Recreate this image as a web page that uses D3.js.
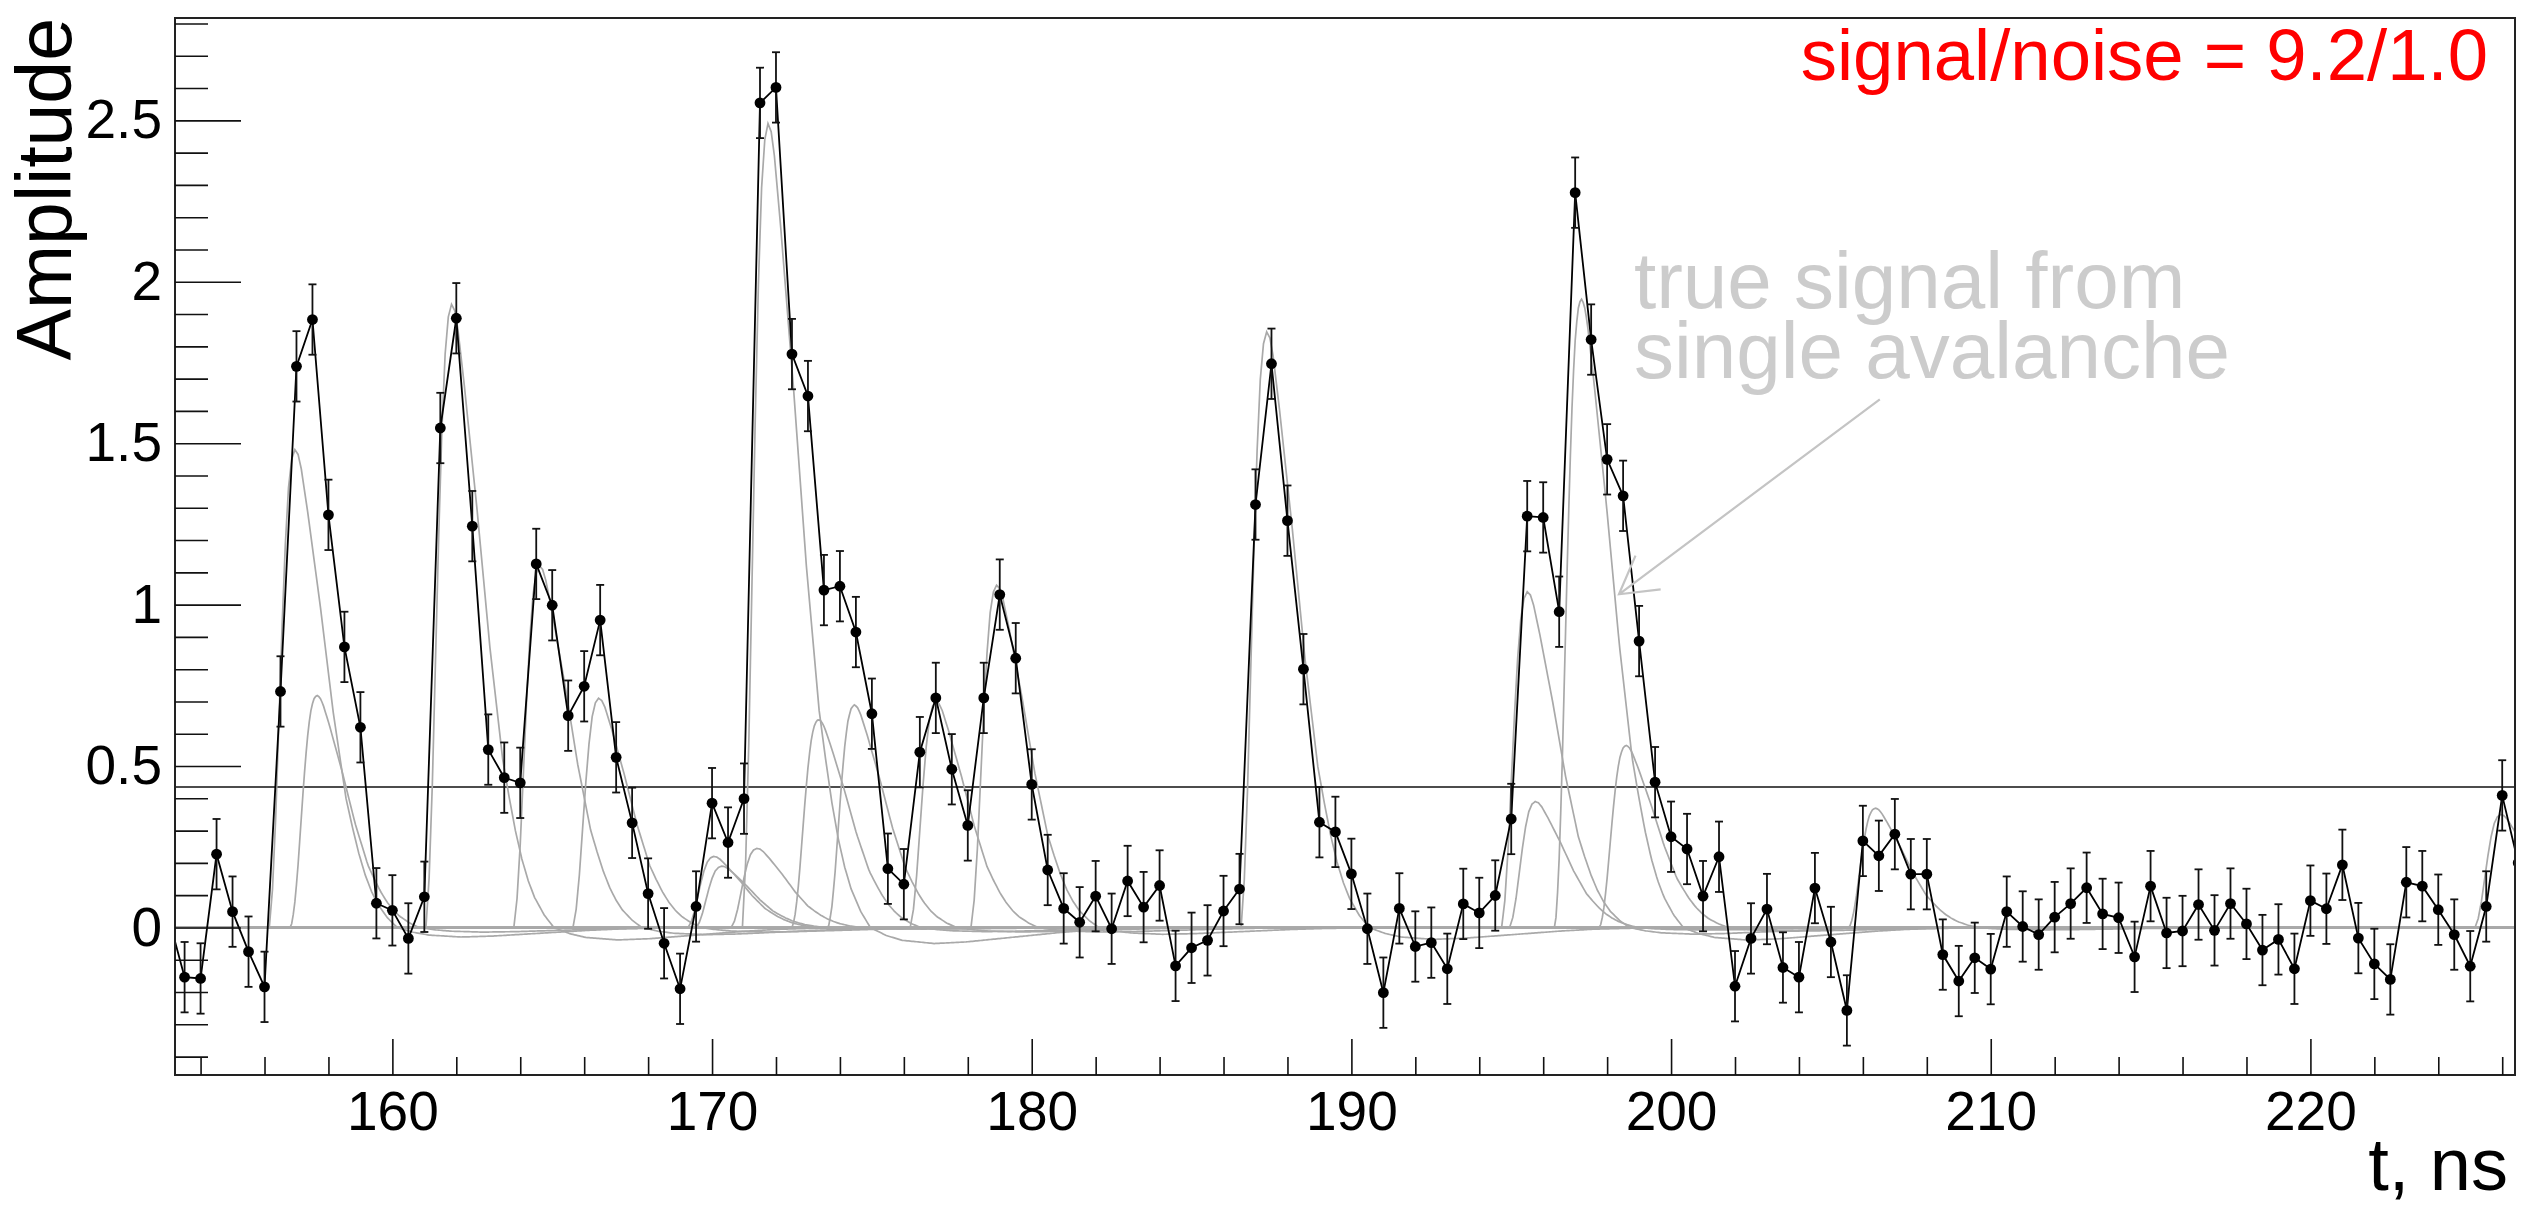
<!DOCTYPE html>
<html>
<head>
<meta charset="utf-8">
<script src="https://cdn.jsdelivr.net/npm/d3@7"></script>
<style>
  body { margin: 0; background: #fff; }
  text { font-family: "Liberation Sans", Arial, Helvetica, sans-serif; }
</style>
</head>
<body>
<svg id="chart" width="2537" height="1207"></svg>
<script>
// ---- digitised waveform: one sample every 0.5 ns starting at 153.0 ns ----
const sampleStart = 153.0;
const sampleStep = 0.5;
const amplitude = [
  0.030, -0.154, -0.158, 0.227, 0.049, -0.075, -0.184, 0.731, 1.738, 1.883,
  1.278, 0.869, 0.620, 0.075, 0.053, -0.034, 0.095, 1.547, 1.887, 1.243,
  0.551, 0.464, 0.448, 1.126, 0.998, 0.656, 0.747, 0.952, 0.527, 0.324,
  0.105, -0.049, -0.190, 0.065, 0.385, 0.263, 0.399, 2.554, 2.602, 1.776,
  1.646, 1.045, 1.057, 0.915, 0.662, 0.182, 0.134, 0.543, 0.711, 0.490,
  0.316, 0.711, 1.031, 0.834, 0.443, 0.178, 0.059, 0.016, 0.097, -0.004,
  0.144, 0.063, 0.130, -0.119, -0.063, -0.040, 0.051, 0.119, 1.310, 1.746,
  1.260, 0.800, 0.326, 0.296, 0.166, -0.004, -0.202, 0.059, -0.059, -0.047,
  -0.128, 0.073, 0.045, 0.099, 0.336, 1.274, 1.270, 0.978, 2.276, 1.821,
  1.450, 1.337, 0.887, 0.450, 0.281, 0.243, 0.097, 0.219, -0.182, -0.034,
  0.057, -0.124, -0.154, 0.122, -0.045, -0.257, 0.268, 0.222, 0.289, 0.165,
  0.165, -0.084, -0.166, -0.094, -0.129, 0.049, 0.003, -0.022, 0.032, 0.074,
  0.123, 0.042, 0.030, -0.091, 0.128, -0.017, -0.011, 0.071, -0.009, 0.074,
  0.011, -0.070, -0.037, -0.128, 0.083, 0.058, 0.194, -0.033, -0.113, -0.161,
  0.140, 0.128, 0.055, -0.022, -0.120, 0.065, 0.409, 0.200
];
const amplitudeError = 0.109;
const threshold = 0.435;

// ---- single-avalanche pulses (peak time in ns, peak amplitude) ----
const pulsePeakTime = [
  156.95, 157.63, 161.85, 164.60, 166.45, 170.05, 170.30, 171.40, 171.75, 173.32,
  174.44, 177.00, 178.90, 187.35, 195.50, 195.75, 197.18, 198.58, 206.38, 225.95
];
const pulseAmplitude = [
  1.48, 0.72, 1.93, 1.12, 0.71, 0.22, 0.19, 0.245, 2.49, 0.645,
  0.69, 0.70, 1.06, 1.845, 1.04, 0.39, 1.95, 0.565, 0.37, 0.35
];
// normalised pulse shape: time after onset (ns) and relative height
const shapeTime = [0, 0.1, 0.2, 0.3, 0.4, 0.5, 0.6, 0.7, 0.8, 0.9, 1.0, 1.2, 1.4, 1.6, 1.8,
  2.0, 2.2, 2.4, 2.6, 2.8, 3.0, 3.2, 3.4, 3.7, 4.0, 4.5, 5.0, 6.0, 7.0, 8.0, 9.0, 10.0, 11.0, 12.0, 14.0];
const shapeValue = [0, 0.08, 0.23, 0.43, 0.63, 0.80, 0.92, 0.98, 1.00, 0.99, 0.96, 0.87, 0.77, 0.67, 0.56,
  0.45, 0.36, 0.27, 0.21, 0.155, 0.11, 0.075, 0.048, 0.02, 0.0, -0.010, -0.016, -0.020, -0.018, -0.014, -0.010, -0.006, -0.003, -0.0015, 0];
const peakOffset = 0.8;

// ---- axes ----
const xDomain = [153.2, 226.4];
const yDomain = [-0.457, 2.817];
const xMajorTicks = [160, 170, 180, 190, 200, 210, 220];
const xMinorTicks = [154, 156, 158, 162, 164, 166, 168, 172, 174, 176, 178, 182, 184, 186, 188,
  192, 194, 196, 198, 202, 204, 206, 208, 212, 214, 216, 218, 222, 224, 226];
const yMajorTicks = [0, 0.5, 1, 1.5, 2, 2.5];
const yMinorTicks = [-0.4, -0.3, -0.2, -0.1, 0.1, 0.2, 0.3, 0.4, 0.6, 0.7, 0.8, 0.9, 1.1, 1.2, 1.3, 1.4,
  1.6, 1.7, 1.8, 1.9, 2.1, 2.2, 2.3, 2.4, 2.6, 2.7, 2.8];
const xTitle = "t, ns";
const yTitle = "Amplitude";
const ratioLabel = "signal/noise = 9.2/1.0";
const noteLines = ["true signal from", "single avalanche"];

// ---- layout ----
const frame = { left: 175, right: 2515, top: 18, bottom: 1075 };
const svg = d3.select("#chart");
svg.append("rect").attr("width", 2537).attr("height", 1207).attr("fill", "#fff");

const x = d3.scaleLinear().domain(xDomain).range([frame.left, frame.right]);
const y = d3.scaleLinear().domain(yDomain).range([frame.bottom, frame.top]);

svg.append("defs").append("clipPath").attr("id", "plotArea")
  .append("rect")
  .attr("x", frame.left).attr("y", frame.top)
  .attr("width", frame.right - frame.left).attr("height", frame.bottom - frame.top);

const plot = svg.append("g").attr("clip-path", "url(#plotArea)");

// reference lines: baseline and threshold
[0, threshold].forEach(v => {
  plot.append("line")
    .attr("x1", frame.left).attr("x2", frame.right)
    .attr("y1", y(v)).attr("y2", y(v))
    .attr("stroke", "#111").attr("stroke-width", 1.6);
});

// individual avalanche pulses
const shape = d3.scaleLinear().domain(shapeTime).range(shapeValue).clamp(true);
const fineGrid = d3.range(xDomain[0], xDomain[1] + 0.001, 0.05);
const pulseLine = d3.line().x(d => x(d[0])).y(d => y(d[1]));
pulsePeakTime.forEach((tp, i) => {
  const onset = tp - peakOffset;
  const pts = fineGrid.map(t => [t, t < onset ? 0 : pulseAmplitude[i] * shape(t - onset)]);
  plot.append("path")
    .attr("d", pulseLine(pts))
    .attr("fill", "none")
    .attr("stroke", "#a9a9a9")
    .attr("stroke-width", 1.7);
});

// measured waveform
const samples = amplitude.map((v, i) => ({ t: sampleStart + i * sampleStep, v }));
plot.append("path")
  .attr("d", d3.line().x(d => x(d.t)).y(d => y(d.v))(samples))
  .attr("fill", "none")
  .attr("stroke", "#000")
  .attr("stroke-width", 1.8);

const bars = plot.append("g").attr("stroke", "#111").attr("stroke-width", 1.8);
samples.forEach(d => {
  const cx = x(d.t), y1 = y(d.v - amplitudeError), y2 = y(d.v + amplitudeError);
  bars.append("line").attr("x1", cx).attr("x2", cx).attr("y1", y1).attr("y2", y2);
  bars.append("line").attr("x1", cx - 4).attr("x2", cx + 4).attr("y1", y1).attr("y2", y1);
  bars.append("line").attr("x1", cx - 4).attr("x2", cx + 4).attr("y1", y2).attr("y2", y2);
});
plot.append("g").selectAll("circle").data(samples).join("circle")
  .attr("cx", d => x(d.t)).attr("cy", d => y(d.v)).attr("r", 5.4)
  .attr("fill", "#000");

// frame
svg.append("rect")
  .attr("x", frame.left).attr("y", frame.top)
  .attr("width", frame.right - frame.left).attr("height", frame.bottom - frame.top)
  .attr("fill", "none").attr("stroke", "#222").attr("stroke-width", 2);

// x axis: ticks pointing into the frame
const xAxisG = svg.append("g").attr("transform", `translate(0,${frame.bottom})`);
xAxisG.call(d3.axisBottom(x).tickValues(xMinorTicks).tickSize(-18).tickFormat(""))
  .call(g => g.select(".domain").remove());
const xMajor = svg.append("g").attr("transform", `translate(0,${frame.bottom})`);
xMajor.call(d3.axisBottom(x).tickValues(xMajorTicks).tickSize(-36).tickPadding(16).tickFormat(d3.format("d")))
  .call(g => g.select(".domain").remove());
svg.selectAll(".tick line").attr("stroke", "#111").attr("stroke-width", 1.6);
xMajor.selectAll("text").attr("font-size", 55).attr("fill", "#000")
  .attr("font-family", "'Liberation Sans', Arial, sans-serif");

// y axis
const yMinorG = svg.append("g").attr("transform", `translate(${frame.left},0)`);
yMinorG.call(d3.axisLeft(y).tickValues(yMinorTicks).tickSize(-33).tickFormat(""))
  .call(g => g.select(".domain").remove());
const yMajor = svg.append("g").attr("transform", `translate(${frame.left},0)`);
yMajor.call(d3.axisLeft(y).tickValues(yMajorTicks).tickSize(-66).tickPadding(13).tickFormat(d => d3.format("")(d)))
  .call(g => g.select(".domain").remove());
svg.selectAll(".tick line").attr("stroke", "#111").attr("stroke-width", 1.6);
yMajor.selectAll("text").attr("font-size", 55).attr("fill", "#000")
  .attr("font-family", "'Liberation Sans', Arial, sans-serif");

// axis titles
svg.append("text")
  .attr("x", 2508).attr("y", 1190)
  .attr("text-anchor", "end")
  .attr("font-size", 74)
  .text(xTitle);
svg.append("text")
  .attr("transform", `translate(71,${frame.top}) rotate(-90)`)
  .attr("text-anchor", "end")
  .attr("font-size", 77)
  .text(yTitle);

// signal-to-noise label
svg.append("text")
  .attr("x", 2488).attr("y", 80)
  .attr("text-anchor", "end")
  .attr("font-size", 72.5)
  .attr("fill", "#ff0000")
  .text(ratioLabel);

// annotation with arrow pointing at one pulse
const noteAnchor = { t: 198.84, v: [1.918, 1.701] };
noteLines.forEach((line, i) => {
  svg.append("text")
    .attr("x", x(noteAnchor.t)).attr("y", y(noteAnchor.v[i]))
    .attr("font-size", 80)
    .attr("fill", "#cccccc")
    .text(line);
});
const arrowFrom = { t: 206.53, v: 1.636 };
const arrowTo = { t: 198.37, v: 1.032 };
const ax0 = x(arrowFrom.t), ay0 = y(arrowFrom.v), ax1 = x(arrowTo.t), ay1 = y(arrowTo.v);
const ang = Math.atan2(ay0 - ay1, ax0 - ax1);
const headLen = 42, headSpread = Math.PI / 6;
svg.append("path")
  .attr("d", `M${ax0},${ay0}L${ax1},${ay1}` +
    `M${ax1 + headLen * Math.cos(ang - headSpread)},${ay1 + headLen * Math.sin(ang - headSpread)}` +
    `L${ax1},${ay1}` +
    `L${ax1 + headLen * Math.cos(ang + headSpread)},${ay1 + headLen * Math.sin(ang + headSpread)}`)
  .attr("fill", "none")
  .attr("stroke", "#c4c4c4")
  .attr("stroke-width", 2.2);
</script>
</body>
</html>
